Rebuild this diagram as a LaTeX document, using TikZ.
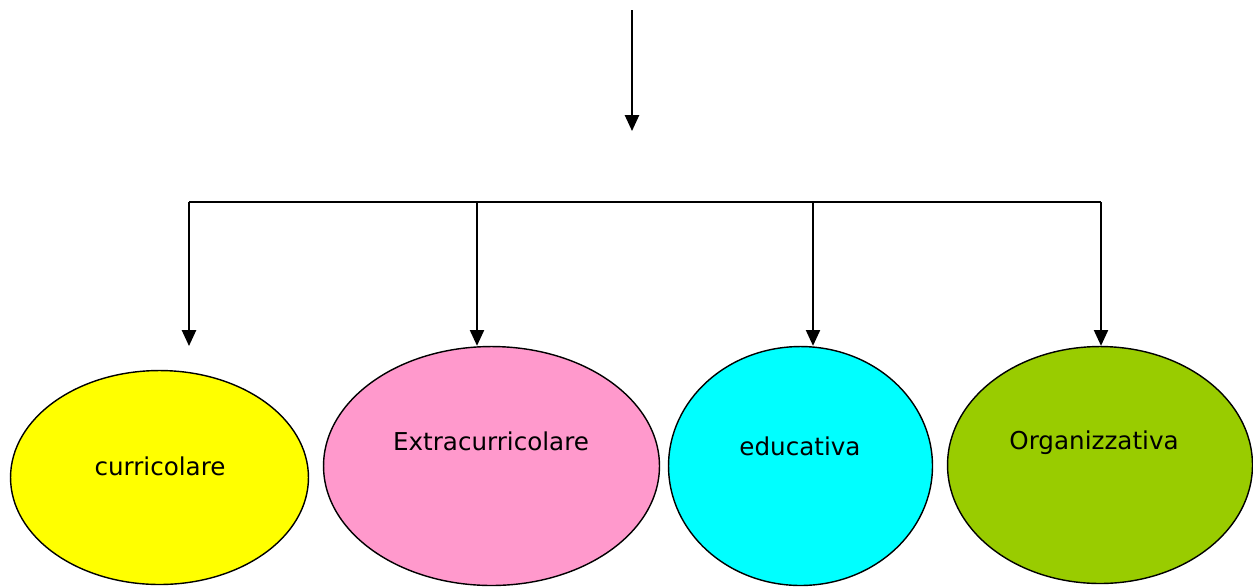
\documentclass[tikz,border=0pt]{standalone}
\usepackage{fontspec}
\setmainfont{DejaVu Sans}
\usepackage{tikz}
\usetikzlibrary{arrows.meta,shapes.geometric}
\definecolor{curyellow}{HTML}{FFFF00}
\definecolor{extpink}{HTML}{FF99CC}
\definecolor{educyan}{HTML}{00FFFF}
\definecolor{orggreen}{HTML}{99CC00}
\begin{document}
\begin{tikzpicture}[x=0.02cm,y=-0.02cm,>={Triangle[width=8pt,length=9pt]},line width=1.1pt,
        area/.style={ellipse,draw=black,line width=0.8pt,inner sep=0pt},
        lbl/.style={font=\fontsize{14}{16}\selectfont,inner sep=0pt}]
        \useasboundingbox (0,0) rectangle (1253,586);
        % ellipses
        \node[area,fill=curyellow,minimum width=5.96cm,minimum height=4.28cm] (cur) at (159.5,477.5) {};
        \node[area,fill=extpink,minimum width=6.72cm,minimum height=4.78cm]   (ext) at (491.5,466) {};
        \node[area,fill=educyan,minimum width=5.28cm,minimum height=4.78cm]   (edu) at (800.5,466) {};
        \node[area,fill=orggreen,minimum width=6.1cm,minimum height=4.74cm]   (org) at (1100,465) {};
        % texts
        \node[lbl] (tcur) at (160,466) {curricolare};
        \node[lbl] (text) at (491,441) {Extracurricolare};
        \node[lbl] (tedu) at (800,446) {educativa};
        \node[lbl] (torg) at (1094,443) {Organizzativa};
        % connectors
        \coordinate (top) at (632,10);
        \coordinate (mid) at (632,131);
        \coordinate (b1) at (189,202);
        \coordinate (b2) at (477,202);
        \coordinate (b3) at (813,202);
        \coordinate (b4) at (1101,202);
        \coordinate (e1) at (189,346);
        \draw[->] (top) -- (mid);
        \draw (b1) -- (b4);
        \draw[->] (b1) -- (e1);
        \draw[->] (b2) -- (b2 |- ext.north);
        \draw[->] (b3) -- (b3 |- edu.north);
        \draw[->] (b4) -- (b4 |- org.north);
      \end{tikzpicture}
\end{document}
